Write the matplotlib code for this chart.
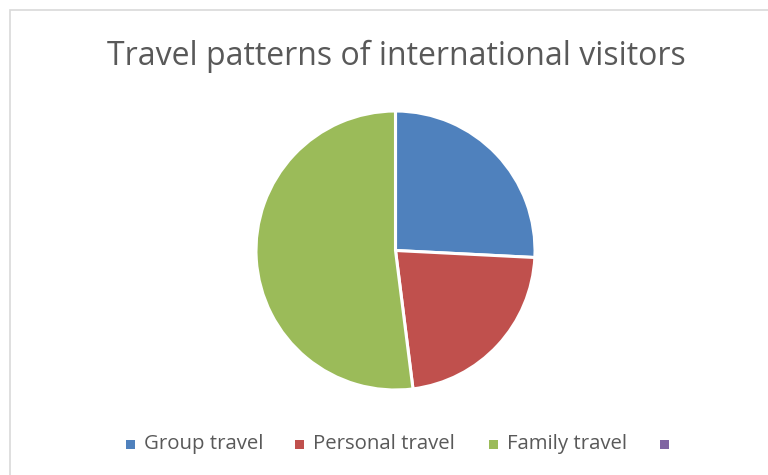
import matplotlib.pyplot as plt
from matplotlib.patches import Rectangle

# Share of international visitors by travel type
categories = ["Group travel", "Personal travel", "Family travel", ""]
shares = [25.8, 22.2, 52.0, 0.0]
colors = ["#4F81BD", "#C0504D", "#9BBB59", "#8064A2"]

W, H = 768, 475
plt.rcParams["font.family"] = ["Open Sans", "DejaVu Sans"]


def create_chart():
    fig = plt.figure(figsize=(W / 100, H / 100), dpi=100)
    fig.patch.set_facecolor("white")

    # Chart area border (runs off the right and bottom edges)
    fig.add_artist(Rectangle((10 / W, -0.05), 1.2, 1 - 10 / H + 0.05,
                             transform=fig.transFigure, fill=False,
                             edgecolor="#D9D9D9", linewidth=1.2))

    fig.text(396 / W, 1 - 56 / H, "Travel patterns of international visitors",
             ha="center", va="center", fontsize=23, color="#595959")

    # Pie plot area
    cx, cy, r = 395.5, 250.5, 139.5
    ax = fig.add_axes([(cx - r) / W, (H - cy - r) / H, 2 * r / W, 2 * r / H])
    ax.pie(shares, colors=colors, startangle=90, counterclock=False,
           radius=1.0, wedgeprops=dict(edgecolor="white", linewidth=2.2))
    ax.set_xlim(-1.0, 1.0)
    ax.set_ylim(-1.0, 1.0)
    ax.set_aspect("equal")
    ax.axis("off")

    # Legend along the bottom
    marker_x = [126, 295, 489, 660]
    y = H - 444
    for x, label, c in zip(marker_x, categories, colors):
        fig.add_artist(Rectangle((x / W, (y - 4.5) / H), 9 / W, 9 / H,
                                 transform=fig.transFigure, facecolor=c,
                                 edgecolor="none"))
        fig.text((x + 18) / W, y / H, label, ha="left", va="center",
                 fontsize=14.7, color="#595959")

    fig.savefig("out.png", dpi=100)


if __name__ == "__main__":
    create_chart()
